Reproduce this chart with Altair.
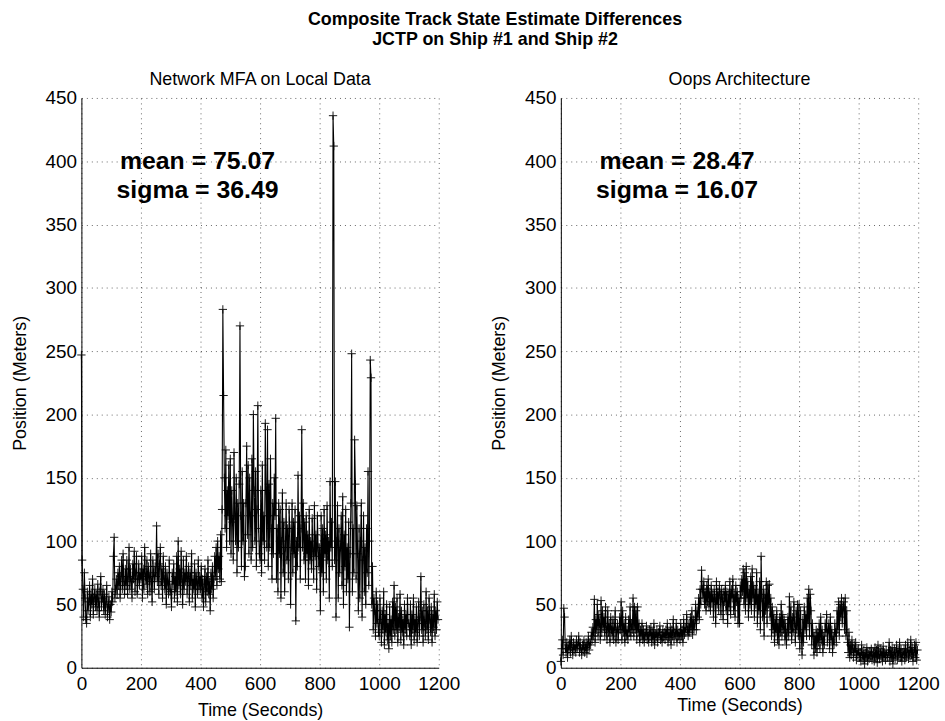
import altair as alt
import pandas as pd

# ---------------- data ----------------
step_seconds = 2.5
mfa_values = [
    247, 85, 62, 40, 75, 55, 38, 35, 60, 45, 52, 65, 40, 58, 50, 70, 42, 55, 62, 48,
    58, 45, 66, 52, 40, 60, 72, 48, 55, 62, 45, 58, 42, 52, 65, 40, 48, 56, 38, 50,
    44, 60, 52, 88, 103, 55, 62, 70, 58, 75, 65, 80, 55, 72, 85, 62, 90, 68, 58, 78,
    65, 85, 58, 72, 95, 62, 78, 68, 55, 82, 70, 92, 60, 75, 88, 58, 70, 82, 65, 75,
    70, 88, 55, 78, 62, 95, 72, 66, 85, 58, 80, 72, 60, 90, 68, 52, 85, 75, 62, 80,
    72, 112, 68, 90, 58, 82, 95, 65, 78, 55, 88, 70, 62, 80, 50, 75, 68, 58, 85, 60,
    62, 48, 75, 66, 82, 55, 72, 60, 88, 52, 100, 65, 78, 58, 92, 70, 50, 85, 62, 75,
    68, 88, 58, 72, 80, 52, 75, 65, 90, 55, 70, 62, 82, 48, 75, 68, 58, 85, 62, 72,
    62, 80, 55, 70, 48, 66, 78, 52, 72, 60, 85, 58, 68, 45, 75, 62, 80, 55, 70, 88,
    72, 95, 65, 100, 78, 88, 70, 105, 68, 125, 283, 215, 150, 110, 172, 95, 140, 120, 160, 100,
    165, 90, 140, 115, 85, 170, 120, 100, 150, 75, 130, 95, 145, 270, 120, 80, 155, 100, 130, 72,
    80, 130, 175, 105, 160, 90, 150, 120, 85, 165, 95, 200, 140, 100, 155, 80, 125, 207, 110, 90,
    85, 140, 75, 160, 100, 120, 85, 193, 140, 95, 188, 80, 145, 95, 165, 110, 70, 130, 90, 150,
    120, 197, 70, 110, 60, 130, 90, 125, 55, 100, 138, 75, 115, 60, 95, 130, 85, 110, 70, 125,
    110, 50, 95, 130, 75, 115, 90, 125, 37, 100, 80, 152, 95, 120, 70, 110, 188, 95, 130, 85,
    115, 70, 120, 90, 105, 65, 125, 85, 100, 78, 118, 92, 70, 128, 88, 105, 62, 120, 95, 80,
    95, 45, 120, 75, 110, 60, 125, 90, 105, 70, 128, 85, 100, 55, 147, 95, 115, 80, 436, 412,
    85, 147, 40, 100, 128, 55, 110, 75, 95, 120, 65, 135, 50, 105, 80, 125, 60, 95, 70, 115,
    32, 90, 130, 248, 60, 110, 75, 180, 145, 70, 128, 90, 45, 110, 55, 100, 130, 40, 85, 120,
    60, 95, 50, 110, 75, 155, 65, 100, 243, 229, 50, 80, 30, 55, 45, 25, 60, 35, 50, 28,
    25, 55, 38, 20, 45, 30, 60, 18, 42, 28, 50, 22, 35, 15, 48, 25, 38, 20, 52, 30,
    65, 25, 48, 30, 55, 20, 40, 32, 58, 22, 45, 28, 38, 18, 50, 30, 42, 25, 55, 35,
    35, 25, 50, 18, 42, 30, 55, 22, 38, 28, 48, 20, 35, 52, 25, 40, 72, 30, 45, 20,
    50, 35, 25, 60, 30, 45, 22, 55, 38, 28, 48, 20, 42, 32, 58, 25, 45, 30, 52, 38,
]
oops_values = [
    5, 15, 22, 10, 47, 40, 15, 12, 20, 8, 18, 14, 22, 12, 25, 16, 10, 20, 14, 18,
    12, 22, 15, 18, 25, 12, 20, 15, 10, 18, 14, 22, 12, 16, 20, 11, 18, 25, 14, 20,
    18, 28, 22, 32, 25, 54, 20, 38, 30, 50, 25, 42, 35, 22, 53, 28, 45, 32, 40, 25,
    48, 30, 22, 45, 28, 35, 20, 40, 30, 25, 38, 22, 32, 45, 20, 28, 35, 22, 30, 40,
    30, 52, 22, 45, 28, 35, 20, 40, 25, 30, 22, 38, 28, 48, 25, 35, 30, 55, 25, 48,
    30, 45, 22, 48, 28, 35, 20, 30, 25, 35, 22, 30, 20, 28, 25, 33, 22, 28, 20, 30,
    25, 32, 20, 28, 22, 35, 18, 27, 24, 30, 20, 28, 25, 33, 22, 26, 20, 30, 24, 28,
    22, 30, 25, 35, 20, 28, 24, 32, 18, 30, 25, 38, 22, 28, 26, 35, 20, 30, 25, 28,
    22, 35, 25, 30, 20, 38, 26, 32, 28, 42, 30, 25, 35, 28, 40, 30, 45, 26, 38, 30,
    35, 50, 30, 45, 40, 55, 38, 62, 50, 77, 62, 55, 68, 50, 60, 45, 65, 52, 70, 48,
    60, 45, 65, 52, 58, 40, 62, 55, 35, 68, 50, 60, 45, 65, 58, 42, 62, 55, 38, 60,
    52, 65, 45, 60, 35, 58, 48, 68, 42, 62, 55, 70, 45, 58, 40, 65, 52, 60, 35, 55,
    35, 65, 55, 70, 60, 78, 50, 75, 45, 80, 55, 68, 40, 62, 50, 72, 45, 78, 55, 65,
    40, 62, 50, 75, 35, 58, 45, 68, 30, 88, 55, 40, 62, 25, 58, 45, 68, 35, 65, 50,
    66, 40, 55, 25, 48, 30, 42, 20, 38, 28, 45, 22, 35, 18, 40, 28, 50, 25, 42, 30,
    38, 22, 35, 18, 28, 40, 25, 56, 30, 48, 22, 40, 28, 52, 35, 20, 45, 30, 50, 25,
    50, 15, 45, 25, 10, 38, 20, 48, 30, 42, 25, 55, 35, 62, 25, 58, 45, 18, 35, 25,
    10, 25, 15, 30, 12, 28, 20, 35, 15, 40, 22, 30, 12, 25, 18, 35, 28, 42, 20, 30,
    35, 15, 40, 22, 30, 12, 25, 18, 35, 28, 20, 45, 30, 52, 25, 50, 40, 55, 35, 48,
    52, 30, 55, 25, 45, 20, 12, 28, 8, 18, 10, 22, 15, 8, 18, 12, 20, 6, 14, 10,
    15, 8, 12, 5, 18, 10, 6, 14, 3, 12, 8, 16, 5, 11, 7, 13, 9, 15, 6, 10,
    12, 5, 16, 8, 14, 4, 18, 10, 7, 15, 9, 13, 5, 17, 8, 12, 6, 14, 10, 8,
    12, 20, 5, 14, 8, 16, 3, 10, 15, 7, 12, 18, 6, 14, 9, 20, 8, 15, 5, 12,
    10, 15, 6, 18, 8, 12, 20, 7, 14, 9, 22, 10, 16, 5, 12, 18, 8, 20, 6, 14,
]
times = [i * step_seconds for i in range(len(mfa_values))]

x_ticks = [0, 200, 400, 600, 800, 1000, 1200]
y_ticks = [0, 50, 100, 150, 200, 250, 300, 350, 400, 450]

panel_titles = ["Network MFA on Local Data", "Oops Architecture"]
stats_labels = [["mean = 75.07", "sigma = 36.49"], ["mean = 28.47", "sigma = 16.07"]]
stats_time = [390, 390]
stats_pos = [400, 377]

main_title = ["Composite Track State Estimate Differences", "JCTP on Ship #1 and Ship #2"]

FONT = "Liberation Sans"
CROSS = "M-1,0L1,0M0,-1L0,1"


def panel(title, values, labels, x_title_pad):
    df = pd.DataFrame({"t": times, "v": values})
    x = alt.X("t:Q", scale=alt.Scale(domain=[0, 1200], nice=False),
              axis=alt.Axis(values=x_ticks, format="d", title="Time (Seconds)",
                            titlePadding=x_title_pad))
    y = alt.Y("v:Q", scale=alt.Scale(domain=[0, 450], nice=False),
              axis=alt.Axis(values=y_ticks, format="d", title="Position (Meters)"))
    base = alt.Chart(df)
    line = base.mark_line(color="black", strokeWidth=1.1).encode(x=x, y=y)
    pts = base.mark_point(shape=CROSS, filled=False, color="black", strokeWidth=1,
                          size=70, opacity=0.9).encode(x=x, y=y)
    tdf = pd.DataFrame({"t": stats_time, "v": stats_pos, "label": labels})
    txt = alt.Chart(tdf).mark_text(font=FONT, fontSize=25, fontWeight="bold",
                                   baseline="middle", align="center", color="black").encode(
        x=x, y=y, text="label:N")
    return alt.layer(line, pts, txt).properties(
        width=360, height=574,
        title=alt.TitleParams(title, fontSize=18, fontWeight="normal", font=FONT,
                              offset=0, color="black"),
    )


left = panel(panel_titles[0], mfa_values, stats_labels[0], 8)
right = panel(panel_titles[1], oops_values, stats_labels[1], 3)

chart = alt.hconcat(left, right, spacing=30).properties(
    title=alt.TitleParams(main_title, fontSize=18, fontWeight="bold", font=FONT,
                          anchor="middle", dx=20, offset=22, lineHeight=20, color="black"),
    padding={"left": 11, "top": 9, "right": 5, "bottom": 0},
).configure_view(stroke=None).configure_axis(
    labelFont=FONT, titleFont=FONT, labelFontSize=19, titleFontSize=18,
    labelColor="black", titleColor="black", titleFontWeight="normal",
    domainColor="black", domainWidth=1, ticks=False, labelPadding=5,
    grid=True, gridColor="black", gridDash=[1, 4], gridOpacity=0.6, gridWidth=1,
    labelFlush=False, labelOverlap=False,
).configure_axisY(titlePadding=16).configure_axisX(labelPadding=7)

chart.save("out.html", embed_options={"renderer": "svg", "actions": False})
